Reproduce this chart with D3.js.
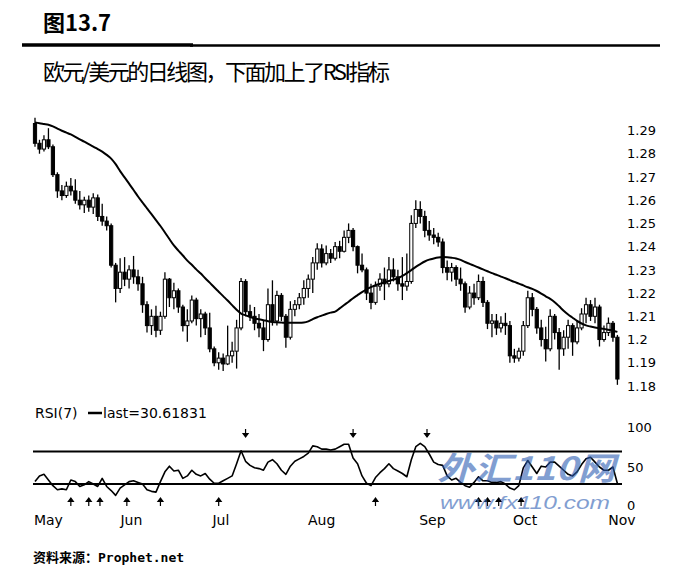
<!DOCTYPE html>
<html><head><meta charset="utf-8">
<script src="https://cdn.jsdelivr.net/npm/d3@7"></script>
<style>body{margin:0;background:#fff} svg{display:block}</style>
</head><body><svg id="c" width="678" height="567"></svg>
<script>
// ---- data ----
const opens=[1.2930,1.2845,1.2820,1.2860,1.2830,1.2710,1.2640,1.2620,1.2660,1.2640,
1.2600,1.2580,1.2600,1.2570,1.2610,1.2530,1.2510,1.2490,1.2320,1.2220,
1.2290,1.2260,1.2300,1.2270,1.2240,1.2150,1.2060,1.2100,1.2040,1.2100,
1.2260,1.2180,1.2210,1.2140,1.2060,1.2080,1.2170,1.2090,1.2110,1.2050,
1.1960,1.1900,1.1920,1.1895,1.1930,1.1950,1.2050,1.2250,1.2120,1.2100,
1.2070,1.2050,1.2000,1.2150,1.2080,1.2190,1.2100,1.2010,1.2130,1.2150,
1.2180,1.2220,1.2260,1.2330,1.2390,1.2330,1.2370,1.2350,1.2400,1.2380,
1.2440,1.2470,1.2400,1.2320,1.2300,1.2200,1.2160,1.2230,1.2260,1.2240,
1.2300,1.2270,1.2240,1.2230,1.2250,1.2500,1.2560,1.2530,1.2470,1.2450,
1.2440,1.2420,1.2310,1.2290,1.2310,1.2260,1.2240,1.2140,1.2200,1.2180,
1.2250,1.2160,1.2070,1.2080,1.2050,1.2070,1.2060,1.1930,1.1920,1.1950,
1.2060,1.2180,1.2130,1.2050,1.2000,1.1960,1.2100,1.2030,1.1960,1.2010,
1.2060,1.1990,1.2050,1.2110,1.2150,1.2100,1.2140,1.2000,1.2030,1.2070,
1.2010];
const highs=[1.2955,1.2860,1.2880,1.2910,1.2840,1.2720,1.2665,1.2680,1.2695,1.2690,
1.2640,1.2615,1.2620,1.2630,1.2625,1.2585,1.2530,1.2500,1.2330,1.2350,
1.2355,1.2320,1.2360,1.2300,1.2270,1.2165,1.2130,1.2145,1.2120,1.2290,
1.2265,1.2245,1.2220,1.2150,1.2130,1.2190,1.2180,1.2130,1.2120,1.2115,
1.1970,1.1945,1.1940,1.2060,1.1990,1.2085,1.2265,1.2260,1.2150,1.2140,
1.2110,1.2080,1.2220,1.2255,1.2210,1.2200,1.2110,1.2165,1.2170,1.2200,
1.2255,1.2280,1.2355,1.2415,1.2410,1.2405,1.2390,1.2420,1.2425,1.2470,
1.2500,1.2480,1.2405,1.2370,1.2310,1.2240,1.2250,1.2285,1.2310,1.2355,
1.2350,1.2300,1.2355,1.2370,1.2535,1.2600,1.2595,1.2555,1.2510,1.2480,
1.2460,1.2435,1.2340,1.2330,1.2320,1.2310,1.2250,1.2230,1.2240,1.2280,
1.2270,1.2170,1.2110,1.2110,1.2100,1.2115,1.2080,1.1960,1.1965,1.2080,
1.2210,1.2200,1.2140,1.2085,1.2055,1.2130,1.2110,1.2050,1.2040,1.2085,
1.2070,1.2080,1.2135,1.2180,1.2170,1.2180,1.2150,1.2060,1.2095,1.2080,
1.2020];
const lows=[1.2830,1.2800,1.2810,1.2820,1.2700,1.2610,1.2600,1.2610,1.2620,1.2585,
1.2560,1.2545,1.2550,1.2540,1.2510,1.2490,1.2470,1.2310,1.2160,1.2200,
1.2230,1.2220,1.2240,1.2210,1.2115,1.2030,1.2020,1.2010,1.2020,1.2090,
1.2140,1.2130,1.2115,1.2035,1.1990,1.2070,1.2060,1.2010,1.2020,1.1945,
1.1885,1.1870,1.1865,1.1890,1.1900,1.1875,1.2040,1.2100,1.2080,1.2040,
1.2010,1.1950,1.1990,1.2060,1.2060,1.2080,1.1965,1.2000,1.2100,1.2130,
1.2150,1.2180,1.2200,1.2300,1.2310,1.2320,1.2330,1.2340,1.2350,1.2375,
1.2415,1.2380,1.2285,1.2290,1.2170,1.2130,1.2150,1.2210,1.2170,1.2225,
1.2250,1.2210,1.2170,1.2210,1.2240,1.2480,1.2500,1.2440,1.2425,1.2410,
1.2400,1.2285,1.2255,1.2250,1.2230,1.2210,1.2115,1.2130,1.2150,1.2170,
1.2140,1.2045,1.2010,1.2020,1.2030,1.2020,1.1900,1.1900,1.1905,1.1930,
1.2050,1.2100,1.2025,1.1970,1.1905,1.1950,1.2000,1.1870,1.1930,1.1960,
1.1930,1.1980,1.2040,1.2070,1.2080,1.2070,1.1970,1.1990,1.2015,1.1990,
1.1805];
const closes=[1.2845,1.2820,1.2860,1.2830,1.2710,1.2640,1.2620,1.2660,1.2640,1.2600,
1.2580,1.2600,1.2570,1.2610,1.2530,1.2510,1.2490,1.2320,1.2220,1.2290,
1.2260,1.2300,1.2270,1.2240,1.2150,1.2060,1.2100,1.2040,1.2100,1.2260,
1.2180,1.2210,1.2140,1.2060,1.2080,1.2170,1.2090,1.2110,1.2050,1.1960,
1.1900,1.1920,1.1895,1.1930,1.1950,1.2050,1.2250,1.2120,1.2100,1.2070,
1.2050,1.2000,1.2150,1.2080,1.2190,1.2100,1.2010,1.2130,1.2150,1.2180,
1.2220,1.2260,1.2330,1.2390,1.2330,1.2370,1.2350,1.2400,1.2380,1.2440,
1.2470,1.2400,1.2320,1.2300,1.2200,1.2160,1.2230,1.2260,1.2240,1.2300,
1.2270,1.2240,1.2230,1.2250,1.2500,1.2560,1.2530,1.2470,1.2450,1.2440,
1.2420,1.2310,1.2290,1.2310,1.2260,1.2240,1.2140,1.2200,1.2180,1.2250,
1.2160,1.2070,1.2080,1.2050,1.2070,1.2060,1.1930,1.1920,1.1950,1.2060,
1.2180,1.2130,1.2050,1.2000,1.1960,1.2100,1.2030,1.1960,1.2010,1.2060,
1.1990,1.2050,1.2110,1.2150,1.2100,1.2140,1.2000,1.2030,1.2070,1.2010,
1.1830];
const maValues=[1.2935,1.2931,1.2928,1.2925,1.2918,1.2908,1.2899,1.2891,1.2883,1.2873,
1.2862,1.2852,1.2841,1.2831,1.2820,1.2809,1.2795,1.2779,1.2755,1.2725,
1.2698,1.2671,1.2644,1.2616,1.2590,1.2565,1.2540,1.2514,1.2489,1.2461,
1.2433,1.2405,1.2383,1.2362,1.2340,1.2322,1.2302,1.2284,1.2264,1.2245,
1.2225,1.2206,1.2187,1.2168,1.2148,1.2128,1.2112,1.2104,1.2097,1.2091,
1.2087,1.2083,1.2079,1.2076,1.2074,1.2073,1.2072,1.2072,1.2072,1.2072,
1.2073,1.2078,1.2088,1.2096,1.2103,1.2110,1.2116,1.2120,1.2134,1.2149,
1.2163,1.2178,1.2191,1.2204,1.2216,1.2226,1.2234,1.2240,1.2246,1.2252,
1.2258,1.2264,1.2274,1.2286,1.2299,1.2313,1.2325,1.2336,1.2344,1.2349,
1.2353,1.2355,1.2354,1.2352,1.2349,1.2343,1.2334,1.2326,1.2318,1.2310,
1.2302,1.2294,1.2286,1.2279,1.2271,1.2264,1.2256,1.2248,1.2241,1.2233,
1.2225,1.2218,1.2209,1.2198,1.2186,1.2175,1.2161,1.2143,1.2124,1.2108,
1.2094,1.2080,1.2069,1.2061,1.2056,1.2052,1.2049,1.2046,1.2042,1.2038,
1.2033];
const rsiValues=[33,40,42,35,28,23,24,23,35,33,
27,29,33,30,27,37,27,22,16,25,
29,33,34,32,30,23,21,20,33,45,
52,46,47,37,40,47,42,40,43,36,
31,31,34,37,40,55,71,58,53,50,
49,47,57,60,55,47,42,52,58,61,
64,68,77,76,73,73,72,73,76,79,
79,62,55,40,31,28,38,44,49,55,
49,46,43,39,60,76,80,76,67,57,
54,53,40,35,37,32,28,26,32,39,
34,34,32,32,33,30,25,23,28,50,
59,51,43,52,51,57,57,52,47,42,
40,45,54,61,63,57,51,47,47,51,
30.61831];
const priceTicks=[1.18,1.19,1.2,1.21,1.22,1.23,1.24,1.25,1.26,1.27,1.28,1.29];
const rsiTicks=[0,50,100];
const rsiBands=[30,70];
const monthLabels=["May","Jun","Jul","Aug","Sep","Oct","Nov"];
const monthTickIndex=[3,21.5,41.5,64,88.7,109.4,131];
const buyArrowIndex=[8,12,14.5,20.5,28,41,76,99,101,103.5,108.5];
const sellArrowIndex=[47,71,87.5];

// ---- drawing ----
const svg=d3.select("#c");
svg.append("rect").attr("width",678).attr("height",567).attr("fill","#fff");
const cjk="'Noto Sans CJK SC','DejaVu Sans',sans-serif";
const sans="'DejaVu Sans',sans-serif";

// header
svg.append("text").attr("x",43).attr("y",31).attr("font-family",cjk).attr("font-weight","bold")
  .attr("font-size",22).attr("fill","#000").text("图13.7");
svg.append("line").attr("x1",22).attr("x2",193).attr("y1",45).attr("y2",45).attr("stroke","#000").attr("stroke-width",3.5);
svg.append("line").attr("x1",190).attr("x2",660).attr("y1",45.5).attr("y2",45.5).attr("stroke","#000").attr("stroke-width",2.5);
svg.append("text").attr("x",43).attr("y",80).attr("font-family",cjk).attr("font-size",22)
  .attr("textLength",347).attr("lengthAdjust","spacing").attr("fill","#000").text("欧元/美元的日线图，下面加上了RSI指标");

const x=d3.scaleLinear().domain([0,130]).range([35,617.4]);
const y=d3.scaleLinear().domain([1.18,1.29]).range([386,130.5]);
const yr=d3.scaleLinear().domain([0,100]).range([508.4,427.2]);

const bars=closes.map((c,i)=>({i,o:opens[i],h:highs[i],l:lows[i],c}));
const gBars=svg.append("g");
gBars.selectAll("line").data(bars).join("line")
  .attr("x1",d=>x(d.i)).attr("x2",d=>x(d.i))
  .attr("y1",d=>y(d.h)).attr("y2",d=>y(d.l))
  .attr("stroke","#000").attr("stroke-width",1.3);
gBars.selectAll("rect").data(bars).join("rect")
  .attr("x",d=>x(d.i)-1.6).attr("width",3.2)
  .attr("y",d=>y(Math.max(d.o,d.c)))
  .attr("height",d=>Math.max(1,Math.abs(y(d.o)-y(d.c))))
  .attr("fill",d=>d.c>=d.o?"#fff":"#000")
  .attr("stroke","#000").attr("stroke-width",1);

// moving average
svg.append("path").datum(maValues)
  .attr("d",d3.line().x((d,i)=>x(i)).y(d=>y(d)).curve(d3.curveMonotoneX))
  .attr("fill","none").attr("stroke","#000").attr("stroke-width",2);

// price axis
const ay=svg.append("g").attr("transform","translate(627,0)")
  .call(d3.axisRight(y).tickValues(priceTicks).tickSize(0).tickPadding(0).tickFormat(d3.format("")));
ay.select(".domain").remove();
ay.selectAll("text").attr("font-family",sans).attr("font-size",13).attr("fill","#000");

// RSI legend
svg.append("text").attr("x",35).attr("y",418).attr("font-family",sans).attr("font-size",14).attr("fill","#000").text("RSI(7)");
svg.append("line").attr("x1",88).attr("x2",102).attr("y1",413).attr("y2",413).attr("stroke","#000").attr("stroke-width",2.5);
svg.append("text").attr("x",103).attr("y",418).attr("font-family",sans).attr("font-size",14).attr("fill","#000")
  .text("last="+rsiValues[rsiValues.length-1]);

// RSI bands
svg.selectAll(".band").data(rsiBands).join("line").attr("class","band")
  .attr("x1",33).attr("x2",622).attr("y1",d=>yr(d)).attr("y2",d=>yr(d))
  .attr("stroke","#000").attr("stroke-width",2);

// RSI line
svg.append("path").datum(rsiValues)
  .attr("d",d3.line().x((d,i)=>x(i)).y(d=>yr(d)))
  .attr("fill","none").attr("stroke","#000").attr("stroke-width",1.6).attr("stroke-linejoin","round");

// arrows
svg.selectAll(".up").data(buyArrowIndex).join("path").attr("class","up")
  .attr("d",d=>{const cx=x(d),t=498;return `M${cx},${t} L${cx-2.5},${t+3.5} L${cx+2.5},${t+3.5} Z M${cx},${t+3} L${cx},${t+8}`;})
  .attr("fill","#000").attr("stroke","#000").attr("stroke-width",1.2);
svg.selectAll(".dn").data(sellArrowIndex).join("path").attr("class","dn")
  .attr("d",d=>{const cx=x(d),b=437;return `M${cx},${b} L${cx-2.5},${b-3.5} L${cx+2.5},${b-3.5} Z M${cx},${b-3} L${cx},${b-8}`;})
  .attr("fill","#000").attr("stroke","#000").attr("stroke-width",1.2);

// RSI axis
const ar=svg.append("g").attr("transform","translate(627,0)")
  .call(d3.axisRight(yr).tickValues(rsiTicks).tickSize(0).tickPadding(0));
ar.select(".domain").remove();
ar.selectAll("text").attr("font-family",sans).attr("font-size",13).attr("fill","#000")
  .attr("dy",d=>d===0?"0.1em":"0.32em");

// month labels
svg.selectAll(".mon").data(monthLabels).join("text").attr("class","mon")
  .attr("x",(d,i)=>x(monthTickIndex[i])).attr("y",525).attr("text-anchor","middle")
  .attr("font-family",sans).attr("font-size",14).attr("fill","#000").text(d=>d);

// watermark
svg.append("text").attr("x",437).attr("y",480).attr("font-family",cjk).attr("font-weight","bold")
  .attr("font-style","italic").attr("font-size",32).attr("fill","#2f5fb3").attr("opacity",0.6)
  .attr("textLength",178).attr("lengthAdjust","spacingAndGlyphs").text("外汇110网");
svg.append("text").attr("x",440).attr("y",508.5).attr("font-family","'Liberation Sans',sans-serif")
  .attr("font-style","italic").attr("font-size",18).attr("fill","#2f5fb3").attr("opacity",0.6)
  .attr("textLength",170).attr("lengthAdjust","spacingAndGlyphs").text("www.fx110.com");

// footer
svg.append("text").attr("x",33).attr("y",562).attr("font-family","'DejaVu Sans Mono','Noto Sans CJK SC',monospace")
  .attr("font-weight","bold").attr("font-size",13).attr("fill","#000").text("资料来源：Prophet.net");
</script></body></html>
